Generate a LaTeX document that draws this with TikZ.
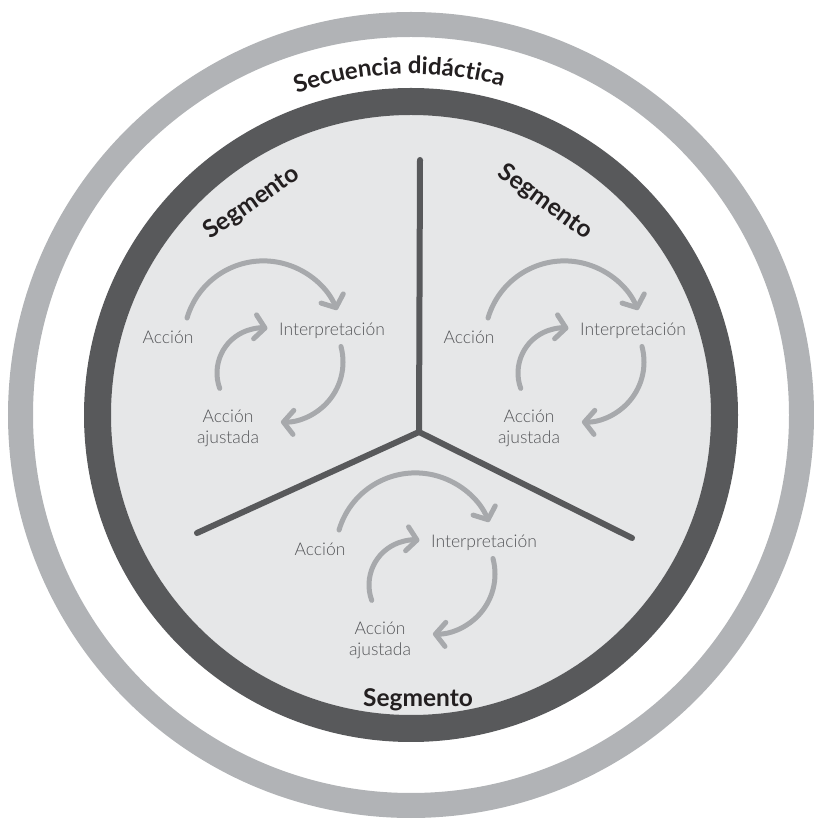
\documentclass[tikz,border=0pt]{standalone}
\usepackage{fontspec}
\setmainfont{Lato}
\newfontfamily\lightf{Lato Light}
\usetikzlibrary{arrows.meta,decorations.text}
\definecolor{ringlight}{HTML}{B1B3B6}
\definecolor{ringdark}{HTML}{58595B}
\definecolor{fillgray}{HTML}{E6E7E8}
\definecolor{arrowgray}{HTML}{A7A9AC}
\definecolor{labelgray}{HTML}{545558}
\definecolor{titleblack}{HTML}{231F20}
\newcommand\cyc[3]{%
 \begin{scope}[shift={(#1,#2)}]
  \node[lbl] (acc#3) at (168,483) {Acción};
  \node[lbl] (int#3) at (332,489) {Interpretación};
  \node[lbl] (aj#3) at (228,392) {Acción\\ajustada};
  \draw[cyclearrow] (263.4,479.5) ++(163.6:79.6) arc[start angle=163.6,end angle=22.5,radius=79.6];
  \draw[cyclearrow] (262,447) ++(200:45) arc[start angle=200,end angle=83,radius=45];
  \draw[cyclearrow] (283,458) ++(15:60) arc[start angle=15,end angle=-92,radius=60];
 \end{scope}}
\begin{document}
\begin{tikzpicture}[x=1pt,y=1pt,
  cyclearrow/.style={draw=arrowgray, line width=5pt, line cap=round, -{Straight Barb[length=10pt,width=24pt,round]}},
  lbl/.style={font=\lightf\fontsize{17.5}{21}\selectfont, text=labelgray, align=center, inner sep=0pt},
  seg/.style={font=\bfseries\fontsize{24.5}{24.5}\selectfont, text=titleblack, inner sep=0pt},
  spoke/.style={draw=ringdark, line width=6pt, line cap=round, line join=round}]
\useasboundingbox (0,0) rectangle (814,820);
\coordinate (C) at (411,405);
\draw[ringlight, line width=25pt] (C) circle[radius=390.5];
\fill[fillgray] (C) circle[radius=300];
\draw[ringdark, line width=27pt] (C) circle[radius=313.5];
\path[decorate, decoration={text along path, text align=center, text color=titleblack,
  text={|\bfseries\fontsize{24}{24}\selectfont|Secuencia didáctica}}]
  (C) ++(132:341) arc[start angle=132, end angle=52, radius=341];
\coordinate (hub) at (419,388);
\coordinate (topend) at (420,660);
\coordinate (leftend) at (197,287);
\coordinate (rightend) at (632,282);
\draw[spoke] (topend) -- (hub) -- (leftend);
\draw[spoke] (hub) -- (rightend);
\node[seg, rotate=35] (segA) at (252,617) {Segmento};
\node[seg, rotate=-36] (segB) at (545,618) {Segmento};
\node[seg] (segC) at (418,120) {Segmento};
\cyc{0}{0}{1}
\cyc{301}{0}{2}
\cyc{152}{-212}{3}
\end{tikzpicture}
\end{document}
